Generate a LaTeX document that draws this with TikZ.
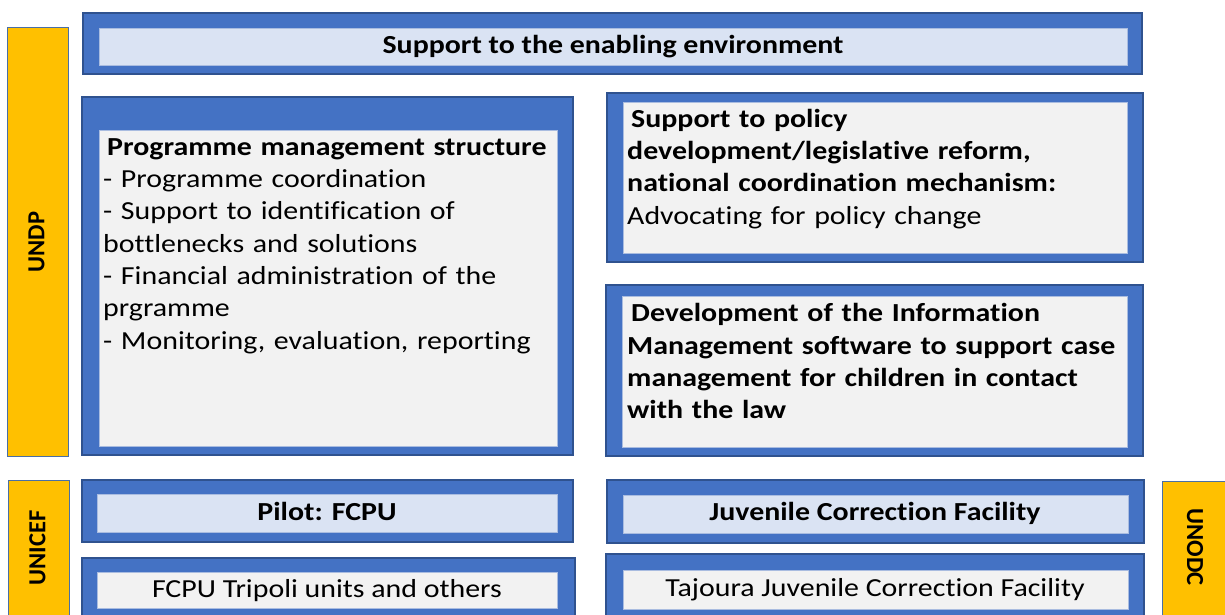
\documentclass[tikz,border=0pt]{standalone}
\usepackage{fontspec}
\setmainfont{Carlito}[FakeStretch=1.15, Ligatures={NoCommon,NoContextual}]
\newfontfamily\labelfont{Carlito}[Ligatures={NoCommon,NoContextual}]
\definecolor{frameblue}{HTML}{4472C4}
\definecolor{edgeblue}{HTML}{2F528F}
\definecolor{paleblue}{HTML}{DAE3F3}
\definecolor{palegray}{HTML}{F2F2F2}
\definecolor{innerline}{HTML}{A9BCE0}
\definecolor{agencygold}{HTML}{FFC000}
\definecolor{goldedge}{HTML}{4A6FA5}
\tikzset{
  shell/.style={anchor=north west, inner sep=0pt, outer sep=0pt},
  outerbox/.style={shell, fill=frameblue, draw=edgeblue, line width=1.2pt},
  headbox/.style={shell, fill=paleblue, draw=innerline, line width=0.8pt},
  bodybox/.style={shell, fill=palegray, draw=innerline, line width=0.8pt},
  agency/.style={shell, fill=agencygold, draw=goldedge, line width=1pt},
  agencylabel/.style={inner sep=0pt, font=\labelfont\fontsize{24.5}{28}\selectfont\bfseries},
  txt/.style={inner sep=0pt, font=\fontsize{26}{32.3}\selectfont},
  bodytxt/.style={txt, anchor=north west, align=left},
}
\begin{document}
\begin{tikzpicture}[x=1pt, y=-1pt]
\useasboundingbox (0,0) rectangle (1225,614);
\clip (0,0) rectangle (1225,614);

% agency bars
\node[agency, minimum width=61pt, minimum height=429pt] (undp) at (7,27) {};
\node[agency, minimum width=61pt, minimum height=140pt] (unicef) at (8,480) {};
\node[agency, minimum width=68pt, minimum height=139pt] (unodc) at (1162,481) {};
\node[agencylabel, rotate=90] (undplabel) at (36.5,242) {UNDP};
\node[agencylabel, rotate=90] (uniceflabel) at (37.5,548) {UNICEF};
\node[agencylabel, rotate=-90] (unodclabel) at (1195,547) {UNODC};

% enabling environment banner
\node[outerbox, minimum width=1059pt, minimum height=61pt] (envout) at (83,13) {};
\node[headbox, minimum width=1028pt, minimum height=37pt] (envin) at (99,28) {};
\node[txt, anchor=base] (envtxt) at (613,53.5) {\bfseries Support to the enabling environment};

% programme management
\node[outerbox, minimum width=491pt, minimum height=358pt] (pmout) at (82,97) {};
\node[bodybox, minimum width=458pt, minimum height=316pt] (pmin) at (99,130) {};
\node[bodytxt, text width=452pt] (pmtxt) at (103,132.4) {\strut\hspace{4pt}\textbf{Programme management structure}\\
- Programme coordination\\
- Support to identification of\\
bottlenecks and solutions\\
- Financial administration of the\\
prgramme\\
- Monitoring, evaluation, reporting};

% policy development
\node[outerbox, minimum width=536pt, minimum height=169pt] (polout) at (607,93) {};
\node[bodybox, minimum width=504pt, minimum height=151pt] (polin) at (623,102) {};
\node[bodytxt, text width=498pt] (poltxt) at (627,104.4) {\strut\hspace{4pt}\textbf{Support to policy}\\
\textbf{development/legislative reform,}\\
\textbf{national coordination mechanism:}\\
Advocating for policy change};

% information management software
\node[outerbox, minimum width=537pt, minimum height=171pt] (imout) at (606,285) {};
\node[bodybox, minimum width=505pt, minimum height=151pt] (imin) at (622,296) {};
\node[bodytxt, text width=498pt] (imtxt) at (627,299) {\strut\hspace{4pt}\textbf{Development of the Information}\\
\textbf{Management software to support case}\\
\textbf{management for children in contact}\\
\textbf{with the law}};

% UNICEF pilot
\node[outerbox, minimum width=491pt, minimum height=62pt] (pilotout) at (82,480) {};
\node[headbox, minimum width=460pt, minimum height=38pt] (pilotin) at (97,494) {};
\node[txt, anchor=base] (pilottxt) at (327,520.5) {\bfseries Pilot: FCPU};
\node[outerbox, minimum width=493pt, minimum height=70pt] (fcpuout) at (82,558) {};
\node[bodybox, minimum width=460pt, minimum height=36pt] (fcpuin) at (97,572) {};
\node[txt, anchor=base] (fcputxt) at (327,597) {FCPU Tripoli units and others};

% UNODC juvenile correction
\node[outerbox, minimum width=537pt, minimum height=63pt] (juvout) at (607,480) {};
\node[headbox, minimum width=505pt, minimum height=38pt] (juvin) at (623,495) {};
\node[txt, anchor=base] (juvtxt) at (875,520.5) {\bfseries Juvenile Correction Facility};
\node[outerbox, minimum width=538pt, minimum height=70pt] (tajout) at (606,554) {};
\node[bodybox, minimum width=505pt, minimum height=39pt] (tajin) at (623,570) {};
\node[txt, anchor=base] (tajtxt) at (875,596.5) {Tajoura Juvenile Correction Facility};
\end{tikzpicture}
\end{document}
